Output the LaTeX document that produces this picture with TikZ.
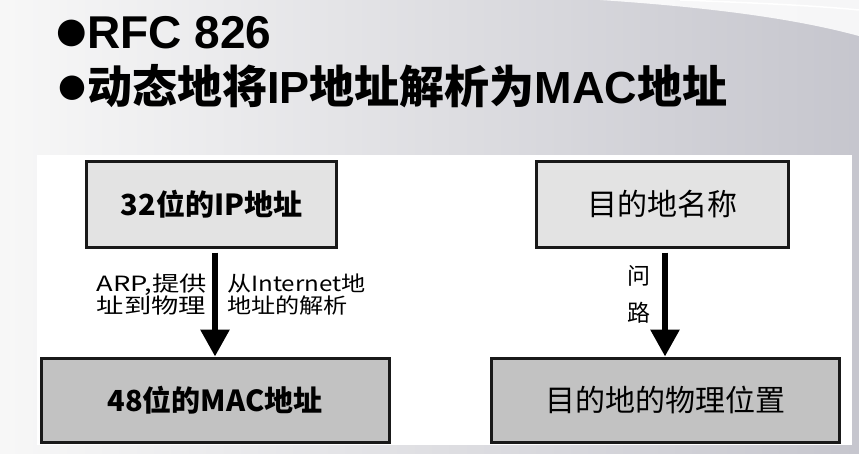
\documentclass[tikz,border=0pt]{standalone}
\usepackage{fontspec}
\usetikzlibrary{arrows.meta,calc}
\newfontfamily\cjk{Noto Sans CJK SC}
\newfontfamily\lat{Liberation Sans}
\newfontfamily\dej{DejaVu Sans}
\newcommand\wid[2]{\scalebox{#1}[1]{#2}}
\begin{document}
\begin{tikzpicture}[x=1pt,y=-1pt,
  boxtop/.style={draw=black!90,line width=3pt,fill=black!11,minimum height=86pt,inner sep=0pt},
  boxbot/.style={draw=black!90,line width=3pt,fill=black!24,minimum height=84pt,inner sep=0pt},
  bigarrow/.style={line width=6pt,-{Triangle[width=28pt,length=27pt]}},
  lbl/.style={inner sep=0pt,font=\cjk\fontsize{21}{22}\selectfont,align=left}]
% background
\shade[left color=white!97!black,right color=black!20!white!97!blue] (0,0) rectangle (859,453);
\useasboundingbox (0,0) rectangle (859,453);
% swoosh
\fill[white,opacity=0.85] (600,0) .. controls (720,8) and (800,20) .. (859,36) -- (859,0) -- cycle;
\draw[white,line width=1.5pt] (680,0) .. controls (760,3) and (820,6) .. (859,10);
% title
\node[inner sep=0pt,font=\dej\fontsize{35}{35}\selectfont] (b1) at (72,33) {●};
\node[inner sep=0pt,anchor=base west,font=\lat\bfseries\fontsize{46}{46}\selectfont] (t1) at (87,48) {RFC 826};
\node[inner sep=0pt,font=\dej\fontsize{32}{32}\selectfont] (b2) at (72,88) {●};
\node[inner sep=0pt,anchor=base west,font=\bfseries\fontsize{45}{45}\selectfont] (t2) at (87,103)
  {{\cjk 动态地将}{\lat IP}{\cjk 地址解析为}{\lat MAC}{\cjk 地址}};
% white panel
\fill[white] (37,155) rectangle (852,445);
% left diagram
\node[boxtop,minimum width=250pt,font=\cjk\bfseries\fontsize{29}{30}\selectfont] (ip) at (211.5,204) {32位的IP地址};
\node[boxbot,minimum width=348pt,font=\cjk\bfseries\fontsize{29}{30}\selectfont] (mac) at (215,400) {48位的MAC地址};
\draw[bigarrow,shorten <=4pt] (ip.south -| mac.north) -- (mac.north);
\node[lbl,anchor=north east] (l1) at (207,274) {\wid{1.3}{ARP,提供}\\\wid{1.3}{址到物理}};
\node[lbl,anchor=north west] (l2) at (227,274) {\wid{1.15}{从Internet地}\\\wid{1.15}{地址的解析}};
% right diagram
\node[boxtop,minimum width=252pt,font=\cjk\fontsize{30}{30}\selectfont] (dn) at (662.5,204) {目的地名称};
\node[boxbot,minimum width=348pt,font=\cjk\fontsize{30}{30}\selectfont] (pl) at (665,400) {目的地的物理位置};
\draw[bigarrow,shorten <=4pt] (dn.south -| pl.north) -- (pl.north);
\node[inner sep=0pt,font=\cjk\fontsize{23}{37}\selectfont,align=center] (ask) at (639,294) {问\\路};
\end{tikzpicture}
\end{document}
